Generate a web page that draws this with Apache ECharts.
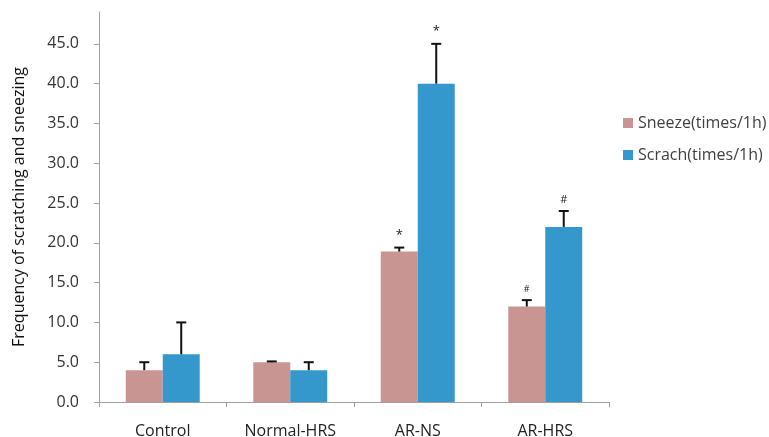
<!DOCTYPE html>
<html><head><meta charset="utf-8">
<script src="https://cdn.jsdelivr.net/npm/echarts@6/dist/echarts.min.js"></script>
<style>html,body{margin:0;padding:0;background:#fff}#c{width:769px;height:437px}</style>
</head><body><div id="c"></div>
<script>
const categories = ['Control', 'Normal-HRS', 'AR-NS', 'AR-HRS'];
const sneeze = [4.0, 5.0, 18.9, 12.0];
const sneezeErr = [1.0, 0.1, 0.5, 0.8];
const scratch = [6.0, 4.0, 40.0, 22.0];
const scratchErr = [4.0, 1.0, 5.0, 2.0];
const sneezeSig = ['', '', '*', '#'];
const scratchSig = ['', '', '*', '#'];
const yTicks = [0, 5, 10, 15, 20, 25, 30, 35, 40, 45];
const seriesNames = ['Sneeze(times/1h)', 'Scrach(times/1h)'];

const FONT = '"Open Sans", "Liberation Sans", sans-serif';
const GAP = 0.42;

function errSeries(vals, errs, sigs, side, sigSize) {
  return {
    type: 'custom',
    z: 5,
    silent: true,
    data: vals.map((v, i) => [i, v, v + errs[i]]),
    encode: { x: 0, y: [1, 2] },
    renderItem: function (params, api) {
      const i = api.value(0);
      const band = api.size([1, 0])[0];
      const bw = band * (1 - GAP) / 2;
      const base = api.coord([i, api.value(1)]);
      const top = api.coord([i, api.value(2)]);
      const x = base[0] + side * bw / 2;
      const cap = 5;
      const children = [
        { type: 'line', shape: { x1: x, y1: base[1], x2: x, y2: top[1] }, style: { stroke: '#111', lineWidth: 2 } },
        { type: 'line', shape: { x1: x - cap, y1: top[1], x2: x + cap, y2: top[1] }, style: { stroke: '#111', lineWidth: 2 } }
      ];
      const sig = sigs[i];
      if (sig) {
        children.push({ type: 'text', style: { text: sig, x: x, y: top[1] - 6, align: 'center', verticalAlign: 'bottom', fontSize: sigSize[i], fontFamily: FONT, fill: '#222' } });
      }
      return { type: 'group', children: children };
    }
  };
}

const chart = echarts.init(document.getElementById('c'));
chart.setOption({
  animation: false,
  backgroundColor: '#fff',
  grid: { left: 99, right: 160, top: 12, bottom: 35, containLabel: false, outerBoundsMode: 'none' },
  legend: {
    orient: 'vertical', left: 618, top: 110, itemGap: 16,
    itemWidth: 10, itemHeight: 10, icon: 'rect',
    textStyle: { fontSize: 16, color: '#404040', fontFamily: FONT },
    data: seriesNames
  },
  xAxis: {
    type: 'category', data: categories, boundaryGap: true,
    axisLine: { lineStyle: { color: '#a0a0a0', width: 1 } },
    axisTick: { show: true, length: 5, lineStyle: { color: '#a0a0a0' } },
    axisLabel: { fontSize: 16, color: '#222', fontFamily: FONT, margin: 21 }
  },
  yAxis: {
    type: 'value', min: 0, max: 49, interval: 5,
    splitLine: { show: false },
    axisLine: { show: true, lineStyle: { color: '#a0a0a0', width: 1 } },
    axisTick: { show: true, length: 5, lineStyle: { color: '#a0a0a0' }, customValues: yTicks },
    axisLabel: { fontSize: 16, color: '#333', fontFamily: FONT, margin: 20, customValues: yTicks, formatter: v => v.toFixed(1) },
    name: 'Frequency of scratching and sneezing',
    nameLocation: 'middle', nameGap: 72, nameRotate: 90,
    nameTextStyle: { fontSize: 16, color: '#111', fontFamily: FONT }
  },
  series: [
    { name: seriesNames[0], type: 'bar', data: sneeze, barGap: '0%', barCategoryGap: (GAP * 100) + '%', itemStyle: { color: '#C89593' } },
    { name: seriesNames[1], type: 'bar', data: scratch, barGap: '0%', barCategoryGap: (GAP * 100) + '%', itemStyle: { color: '#3598CC' } },
    errSeries(sneeze, sneezeErr, sneezeSig, -1, [12, 12, 13, 9]),
    errSeries(scratch, scratchErr, scratchSig, 1, [12, 12, 13, 11])
  ]
});
</script></body></html>
